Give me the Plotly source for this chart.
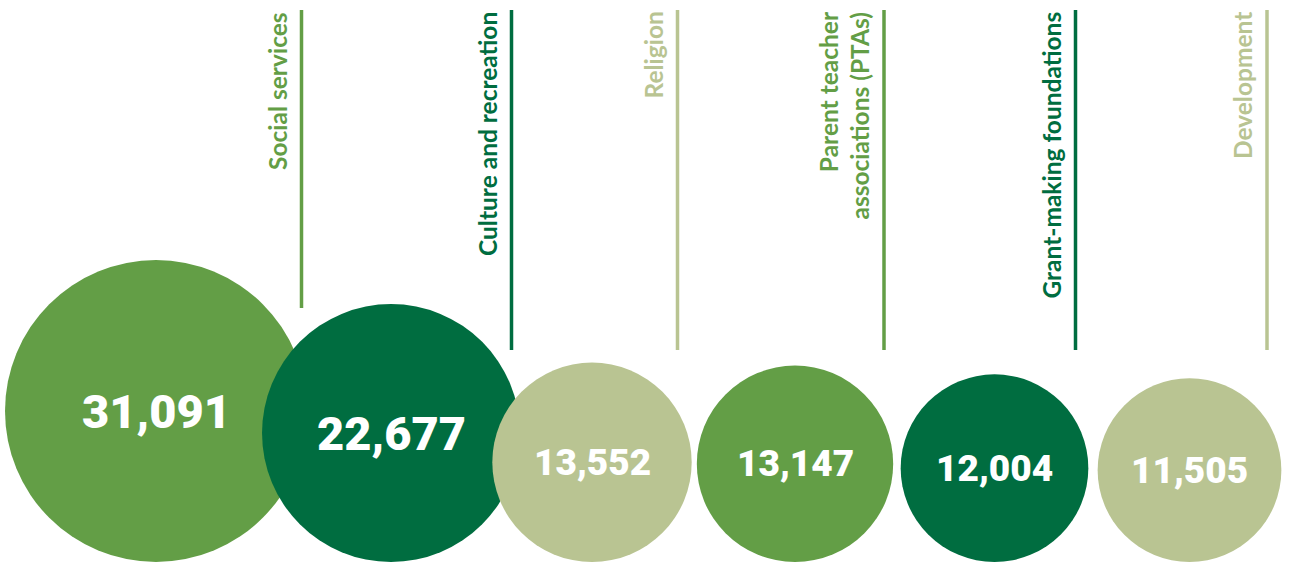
import numpy as np
import plotly.graph_objects as go

# Number of organisations by sector
categories = [
    "Social services",
    "Culture and recreation",
    "Religion",
    "Parent teacher<br>associations (PTAs)",
    "Grant-making foundations",
    "Development",
]
values = [31091, 22677, 13552, 13147, 12004, 11505]
value_labels = ["31,091", "22,677", "13,552", "13,147", "12,004", "11,505"]

# Layout constants (pixel space: 1 data unit = 1 px)
W, H = 1289, 564
BASE_Y = 562                     # bubbles sit on this line
RADIUS_SCALE = 151 / np.sqrt(max(values))   # bubble area proportional to value
centers_x = [156, 391, 592, 795, 994.5, 1189.5]
rule_x = [301.5, 511.5, 677.5, 884, 1075.5, 1267]
rule_bottom = [308, 350, 350, 350, 350, 350]
label_gap = 8

MID = "#639E46"
DARK = "#006D40"
LIGHT = "#B9C492"
colors = [MID, DARK, LIGHT, MID, DARK, LIGHT]

radii = [RADIUS_SCALE * np.sqrt(v) for v in values]
centers_y = [BASE_Y - r for r in radii]

fig = go.Figure()

fig.add_trace(go.Scatter(
    x=centers_x,
    y=centers_y,
    mode="markers",
    marker=dict(size=[2 * r for r in radii], color=colors, opacity=1,
                line=dict(width=0)),
    hoverinfo="skip",
    showlegend=False,
))

# Value labels inside the bubbles
for cx, cy, v, txt in zip(centers_x, centers_y, values, value_labels):
    fig.add_annotation(
        x=cx, y=cy, text=txt, showarrow=False,
        xanchor="center", yanchor="middle",
        font=dict(family="Roboto", size=47 if v > 20000 else 37,
                  color="white", weight=900),
    )

# Vertical rules with rotated category labels
for lx, lb, col, cat in zip(rule_x, rule_bottom, colors, categories):
    fig.add_shape(type="line", x0=lx, x1=lx, y0=10, y1=lb,
                  xref="x", yref="y", line=dict(color=col, width=3.5))
    fig.add_annotation(
        x=lx - label_gap, y=10, text=cat, showarrow=False,
        textangle=-90, xanchor="right", yanchor="top", align="right",
        font=dict(family="Lato", size=24.5, color=col, weight="bold"),
    )

fig.update_layout(
    width=W, height=H,
    margin=dict(l=0, r=0, t=0, b=0),
    paper_bgcolor="white", plot_bgcolor="white",
    xaxis=dict(range=[0, W], visible=False, fixedrange=True),
    yaxis=dict(range=[H, 0], visible=False, fixedrange=True),
)

fig.write_html("out.html")
